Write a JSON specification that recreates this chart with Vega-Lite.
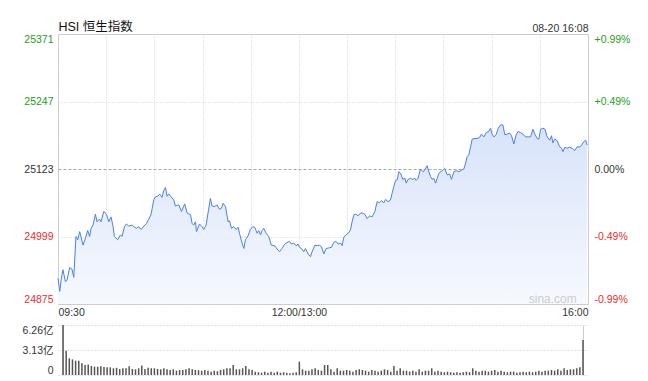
{
  "$schema": "https://vega.github.io/schema/vega-lite/v6.json",
  "padding": {"left": 22, "top": 19, "right": 0, "bottom": 0},
  "bounds": "flush",
  "spacing": 21,
  "config": {
    "font": "Liberation Sans, Noto Sans CJK SC, sans-serif",
    "view": {"stroke": "#cccccc"},
    "axis": {"labelFont": "Liberation Sans, Noto Sans CJK SC, sans-serif", "labelFontSize": 10.5, "labelColor": "#333333", "ticks": false, "domain": false, "title": null}
  },
  "datasets": {
    "line": [
      {"t":0,"v":24922},{"t":1.1,"v":24898},{"t":1.9,"v":24919},{"t":3.1,"v":24938},{"t":4.6,"v":24916},{"t":5.6,"v":24919},{"t":7.3,"v":24942},{"t":8.7,"v":24939},{"t":9.8,"v":24924},{"t":11.2,"v":24999},{"t":12.3,"v":24993},{"t":13.5,"v":25008},{"t":15.6,"v":24983},{"t":17.1,"v":24996},{"t":18.5,"v":25010},{"t":19.7,"v":24999},{"t":20.6,"v":25014},{"t":21.8,"v":25020},{"t":23.3,"v":25040},{"t":24.3,"v":25026},{"t":25.8,"v":25031},{"t":26.8,"v":25026},{"t":28.5,"v":25045},{"t":30.2,"v":25040},{"t":31.6,"v":25026},{"t":33,"v":25035},{"t":34.3,"v":25017},{"t":35.1,"v":24999},{"t":37.2,"v":24993},{"t":38.9,"v":25002},{"t":39.9,"v":24999},{"t":41.4,"v":25017},{"t":42.6,"v":25022},{"t":44,"v":25018},{"t":46.1,"v":25020},{"t":47.2,"v":25017},{"t":48.8,"v":25014},{"t":50.3,"v":25017},{"t":51.7,"v":25012},{"t":53.4,"v":25018},{"t":55.1,"v":25023},{"t":56.5,"v":25031},{"t":57.9,"v":25039},{"t":59.6,"v":25066},{"t":60.7,"v":25072},{"t":62.1,"v":25073},{"t":63.3,"v":25077},{"t":64.8,"v":25071},{"t":65.8,"v":25083},{"t":66.9,"v":25089},{"t":67.9,"v":25073},{"t":69,"v":25077},{"t":70.4,"v":25072},{"t":72.1,"v":25066},{"t":73.1,"v":25055},{"t":74.6,"v":25057},{"t":75.2,"v":25057},{"t":76.9,"v":25045},{"t":78.9,"v":25059},{"t":80.4,"v":25042},{"t":82.5,"v":25039},{"t":83.5,"v":25023},{"t":84.5,"v":25020},{"t":85.6,"v":25026},{"t":86.2,"v":25008},{"t":88.1,"v":25022},{"t":89.7,"v":25017},{"t":90.8,"v":25012},{"t":92.2,"v":25020},{"t":93.4,"v":25042},{"t":94.9,"v":25069},{"t":95.9,"v":25055},{"t":97.6,"v":25054},{"t":99,"v":25057},{"t":100.5,"v":25049},{"t":101.8,"v":25051},{"t":102.8,"v":25060},{"t":104.3,"v":25054},{"t":105.9,"v":25026},{"t":106.8,"v":25028},{"t":108,"v":25014},{"t":109.4,"v":25017},{"t":110.9,"v":25012},{"t":112.1,"v":25016},{"t":113,"v":25005},{"t":114.2,"v":24991},{"t":115.7,"v":24977},{"t":116.7,"v":24993},{"t":118.3,"v":25000},{"t":119.8,"v":25012},{"t":121.3,"v":25017},{"t":122.5,"v":25016},{"t":124,"v":25005},{"t":125,"v":25010},{"t":126.1,"v":25002},{"t":127.1,"v":25010},{"t":128.1,"v":25014},{"t":129.6,"v":25005},{"t":131.2,"v":24999},{"t":132.9,"v":24983},{"t":135,"v":24982},{"t":136.4,"v":24976},{"t":137.9,"v":24971},{"t":139.5,"v":24977},{"t":141.2,"v":24985},{"t":142.6,"v":24988},{"t":144.1,"v":24990},{"t":145.4,"v":24985},{"t":146.8,"v":24987},{"t":148.2,"v":24982},{"t":149.5,"v":24985},{"t":150.4,"v":24979},{"t":151.6,"v":24977},{"t":153,"v":24971},{"t":154.1,"v":24977},{"t":155.7,"v":24967},{"t":157.2,"v":24962},{"t":158.2,"v":24971},{"t":159.9,"v":24983},{"t":161.3,"v":24982},{"t":162.8,"v":24983},{"t":164.1,"v":24980},{"t":165.5,"v":24967},{"t":166.9,"v":24977},{"t":168.6,"v":24978},{"t":170.3,"v":24979},{"t":171.7,"v":24988},{"t":173.2,"v":24990},{"t":174.4,"v":24985},{"t":175.9,"v":24987},{"t":176.9,"v":24982},{"t":178,"v":24998},{"t":179.4,"v":25002},{"t":181.1,"v":25006},{"t":182.1,"v":25011},{"t":183.1,"v":25026},{"t":184.2,"v":25039},{"t":185.6,"v":25040},{"t":186.9,"v":25037},{"t":188.4,"v":25042},{"t":189.8,"v":25042},{"t":191,"v":25040},{"t":192.5,"v":25032},{"t":194,"v":25037},{"t":195.6,"v":25035},{"t":197.3,"v":25045},{"t":198.7,"v":25063},{"t":200.2,"v":25061},{"t":201.4,"v":25065},{"t":202.9,"v":25061},{"t":203.9,"v":25067},{"t":205.5,"v":25063},{"t":207,"v":25066},{"t":208,"v":25078},{"t":209.1,"v":25091},{"t":210.2,"v":25102},{"t":211.2,"v":25103},{"t":212.2,"v":25118},{"t":213.3,"v":25115},{"t":214.7,"v":25104},{"t":216,"v":25106},{"t":216.8,"v":25097},{"t":218,"v":25104},{"t":219.5,"v":25106},{"t":220.9,"v":25104},{"t":222.2,"v":25106},{"t":223,"v":25102},{"t":224.2,"v":25106},{"t":225.7,"v":25123},{"t":227.2,"v":25118},{"t":228.4,"v":25121},{"t":229.8,"v":25129},{"t":230.9,"v":25118},{"t":232,"v":25109},{"t":233,"v":25104},{"t":234,"v":25106},{"t":235.1,"v":25097},{"t":236.1,"v":25106},{"t":237.1,"v":25115},{"t":239.2,"v":25120},{"t":240.9,"v":25124},{"t":242.3,"v":25112},{"t":243.8,"v":25114},{"t":245,"v":25104},{"t":246.5,"v":25118},{"t":247.9,"v":25120},{"t":249.6,"v":25118},{"t":251.3,"v":25121},{"t":252.7,"v":25123},{"t":253.8,"v":25134},{"t":254.8,"v":25146},{"t":255.8,"v":25149},{"t":256.9,"v":25164},{"t":257.9,"v":25178},{"t":259.6,"v":25179},{"t":261,"v":25179},{"t":262.5,"v":25181},{"t":263.7,"v":25187},{"t":265.2,"v":25182},{"t":266.6,"v":25190},{"t":268.3,"v":25192},{"t":269.3,"v":25198},{"t":270.3,"v":25187},{"t":271.4,"v":25182},{"t":272.8,"v":25186},{"t":274.1,"v":25198},{"t":275.6,"v":25204},{"t":277,"v":25204},{"t":278.2,"v":25186},{"t":279.7,"v":25187},{"t":281.2,"v":25189},{"t":282.4,"v":25184},{"t":283.8,"v":25169},{"t":285.3,"v":25186},{"t":286.5,"v":25192},{"t":288,"v":25190},{"t":289.5,"v":25187},{"t":291.1,"v":25182},{"t":292.7,"v":25182},{"t":294.2,"v":25182},{"t":295.7,"v":25196},{"t":296.9,"v":25187},{"t":298.4,"v":25179},{"t":299.4,"v":25178},{"t":300.5,"v":25196},{"t":301.9,"v":25198},{"t":303.2,"v":25196},{"t":304.6,"v":25182},{"t":306.1,"v":25176},{"t":307.3,"v":25184},{"t":308.1,"v":25171},{"t":309.4,"v":25178},{"t":310.8,"v":25175},{"t":312.3,"v":25164},{"t":313.6,"v":25161},{"t":314.4,"v":25155},{"t":315.6,"v":25163},{"t":317,"v":25161},{"t":318.5,"v":25163},{"t":320.2,"v":25161},{"t":321.8,"v":25157},{"t":323.3,"v":25164},{"t":324.8,"v":25163},{"t":326,"v":25167},{"t":327.4,"v":25173},{"t":328.5,"v":25176},{"t":329.5,"v":25167}
    ],
    "vol": [
      {"t":0,"vol":6.26},{"t":2,"vol":3.04},{"t":4,"vol":2.09},{"t":6,"vol":1.96},{"t":8,"vol":1.79},{"t":10,"vol":1.79},{"t":12,"vol":1.46},{"t":14,"vol":1.25},{"t":16,"vol":1.3},{"t":18,"vol":1.13},{"t":20,"vol":1.04},{"t":22,"vol":1.04},{"t":24,"vol":1.1},{"t":26,"vol":1.0},{"t":28,"vol":0.96},{"t":30,"vol":0.96},{"t":32,"vol":0.84},{"t":34,"vol":0.9},{"t":36,"vol":0.75},{"t":38,"vol":0.84},{"t":40,"vol":0.84},{"t":42,"vol":1.1},{"t":44,"vol":0.75},{"t":46,"vol":0.71},{"t":48,"vol":0.84},{"t":50,"vol":1.2},{"t":52,"vol":0.75},{"t":54,"vol":0.9},{"t":56,"vol":0.84},{"t":58,"vol":0.84},{"t":60,"vol":0.75},{"t":62,"vol":0.71},{"t":64,"vol":0.84},{"t":66,"vol":0.71},{"t":68,"vol":0.63},{"t":70,"vol":0.71},{"t":72,"vol":0.54},{"t":74,"vol":0.63},{"t":76,"vol":0.63},{"t":78,"vol":0.71},{"t":80,"vol":0.84},{"t":82,"vol":0.71},{"t":84,"vol":0.63},{"t":86,"vol":0.6},{"t":88,"vol":0.54},{"t":90,"vol":0.63},{"t":92,"vol":0.54},{"t":94,"vol":0.42},{"t":96,"vol":0.54},{"t":98,"vol":0.48},{"t":100,"vol":0.63},{"t":102,"vol":0.71},{"t":104,"vol":0.84},{"t":106,"vol":0.84},{"t":108,"vol":1.25},{"t":110,"vol":0.71},{"t":112,"vol":0.71},{"t":114,"vol":0.84},{"t":116,"vol":1.13},{"t":118,"vol":0.71},{"t":120,"vol":0.63},{"t":122,"vol":0.42},{"t":124,"vol":0.35},{"t":126,"vol":0.29},{"t":128,"vol":0.42},{"t":130,"vol":0.29},{"t":132,"vol":0.42},{"t":134,"vol":0.29},{"t":136,"vol":0.42},{"t":138,"vol":0.29},{"t":140,"vol":0.35},{"t":142,"vol":0.29},{"t":144,"vol":0.21},{"t":146,"vol":0.29},{"t":148,"vol":0.35},{"t":150,"vol":1.67},{"t":152,"vol":0.71},{"t":154,"vol":0.54},{"t":156,"vol":0.54},{"t":158,"vol":0.71},{"t":160,"vol":0.84},{"t":162,"vol":0.63},{"t":164,"vol":0.54},{"t":166,"vol":1.25},{"t":168,"vol":1.25},{"t":170,"vol":0.71},{"t":172,"vol":0.42},{"t":174,"vol":0.84},{"t":176,"vol":0.54},{"t":178,"vol":0.54},{"t":180,"vol":0.63},{"t":182,"vol":0.54},{"t":184,"vol":0.42},{"t":186,"vol":0.63},{"t":188,"vol":0.71},{"t":190,"vol":0.63},{"t":192,"vol":0.54},{"t":194,"vol":0.42},{"t":196,"vol":0.63},{"t":198,"vol":0.54},{"t":200,"vol":0.42},{"t":202,"vol":0.54},{"t":204,"vol":0.71},{"t":206,"vol":0.63},{"t":208,"vol":0.42},{"t":210,"vol":1.13},{"t":212,"vol":0.54},{"t":214,"vol":0.84},{"t":216,"vol":0.54},{"t":218,"vol":0.54},{"t":220,"vol":0.42},{"t":222,"vol":0.54},{"t":224,"vol":0.42},{"t":226,"vol":0.71},{"t":228,"vol":0.42},{"t":230,"vol":0.54},{"t":232,"vol":0.54},{"t":234,"vol":0.84},{"t":236,"vol":0.42},{"t":238,"vol":0.54},{"t":240,"vol":0.42},{"t":242,"vol":0.35},{"t":244,"vol":0.42},{"t":246,"vol":0.35},{"t":248,"vol":0.29},{"t":250,"vol":0.35},{"t":252,"vol":0.29},{"t":254,"vol":0.35},{"t":256,"vol":0.42},{"t":258,"vol":0.35},{"t":260,"vol":0.84},{"t":262,"vol":0.54},{"t":264,"vol":0.42},{"t":266,"vol":0.54},{"t":268,"vol":0.54},{"t":270,"vol":0.42},{"t":272,"vol":0.54},{"t":274,"vol":0.63},{"t":276,"vol":0.42},{"t":278,"vol":0.54},{"t":280,"vol":0.42},{"t":282,"vol":0.35},{"t":284,"vol":0.42},{"t":286,"vol":0.42},{"t":288,"vol":0.29},{"t":290,"vol":0.35},{"t":292,"vol":0.42},{"t":294,"vol":0.35},{"t":296,"vol":0.42},{"t":298,"vol":0.35},{"t":300,"vol":0.42},{"t":302,"vol":0.54},{"t":304,"vol":0.42},{"t":306,"vol":0.54},{"t":308,"vol":0.54},{"t":310,"vol":0.63},{"t":312,"vol":0.54},{"t":314,"vol":0.71},{"t":316,"vol":0.54},{"t":318,"vol":0.84},{"t":320,"vol":0.63},{"t":322,"vol":0.71},{"t":324,"vol":0.71},{"t":326,"vol":0.84},{"t":328,"vol":0.96},{"t":330,"vol":4.38}
    ]
  },
  "vconcat": [
    {
      "width": 530,
      "height": 270,
      "layer": [
        {
          "data": {"name": "line"},
          "mark": {"type": "area", "clip": true, "color": {"gradient": "linear", "x1": 0, "y1": 0, "x2": 0, "y2": 1, "stops": [{"offset": 0, "color": "#d8e3fa"}, {"offset": 1, "color": "#f6f9fe"}]}},
          "encoding": {
            "x": {"field": "t", "type": "quantitative", "scale": {"domain": [0, 330], "nice": false, "zero": false},
              "axis": {"orient": "bottom", "values": [0, 30, 60, 90, 120, 150, 180, 210, 240, 270, 300, 330],
                "labelExpr": "datum.value == 0 ? '09:30' : (datum.value == 150 ? '12:00/13:00' : (datum.value == 330 ? '16:00' : ''))",
                "labelAlign": {"condition": [{"test": "datum.value == 0", "value": "left"}, {"test": "datum.value == 330", "value": "right"}], "value": "center"},
                "labelOverlap": false, "labelFlush": false, "labelPadding": 3, "labelBaseline": "top",
                "grid": true, "gridColor": "#d0d0d0", "gridDash": [1, 2]}},
            "y": {"field": "v", "type": "quantitative", "scale": {"domain": [24875, 25371], "nice": false, "zero": false},
              "axis": {"orient": "left", "values": [24875, 24999, 25123, 25247, 25371], "format": "d", "labelFlush": true, "labelPadding": 5,
                "labelColor": {"condition": [{"test": "datum.value > 25123", "value": "#22a022"}, {"test": "datum.value < 25123", "value": "#ee2b2b"}], "value": "#333333"},
                "grid": true,
                "gridColor": {"condition": {"test": "datum.value == 25123", "value": "#a8a8a8"}, "value": "#d0d0d0"},
                "gridDash": {"condition": {"test": "datum.value == 25123", "value": [3, 2]}, "value": [1, 2]}}},
            "y2": {"datum": 24875}
          }
        },
        {
          "data": {"name": "line"},
          "mark": {"type": "line", "color": "#4a80ee", "strokeWidth": 1},
          "encoding": {
            "x": {"field": "t", "type": "quantitative",
              "axis": {"orient": "top", "values": [0, 330], "grid": false,
                "labelExpr": "datum.value == 0 ? 'HSI 恒生指数' : '08-20 16:08'",
                "labelAlign": {"condition": {"test": "datum.value == 0", "value": "left"}, "value": "right"},
                "labelFontSize": {"condition": {"test": "datum.value == 0", "value": 12.5}, "value": 10.5},
                "labelColor": {"condition": {"test": "datum.value == 0", "value": "#111111"}, "value": "#333333"},
                "labelOverlap": false, "labelFlush": false, "labelPadding": 1}},
            "y": {"field": "v", "type": "quantitative",
              "axis": {"orient": "right", "values": [24875, 24999, 25123, 25247, 25371], "labelFlush": true, "labelPadding": 6, "grid": false,
                "labelExpr": "datum.value == 25123 ? '0.00%' : (datum.value > 25123 ? '+' : '-') + format(abs(datum.value / 25123 - 1) * 100, '.2f') + '%'",
                "labelColor": {"condition": [{"test": "datum.value > 25123", "value": "#22a022"}, {"test": "datum.value < 25123", "value": "#ee2b2b"}], "value": "#333333"}}}
          }
        },
        {
          "data": {"values": [{"label": "sina.com"}]},
          "mark": {"type": "text", "align": "right", "baseline": "middle", "fontSize": 12, "color": "#cccccc"},
          "encoding": {
            "x": {"datum": 323, "type": "quantitative", "axis": null},
            "y": {"datum": 24884, "type": "quantitative", "axis": null},
            "text": {"field": "label"}
          }
        }
      ],
      "resolve": {"axis": {"x": "independent", "y": "independent"}}
    },
    {
      "width": 530,
      "height": 50,
      "data": {"name": "vol"},
      "view": {"stroke": null},
      "mark": {"type": "bar", "color": "#555555", "size": 1.5, "orient": "vertical"},
      "encoding": {
        "x": {"field": "t", "type": "quantitative", "scale": {"domain": [0, 330], "nice": false, "zero": false},
          "axis": {"values": [0, 330], "labels": false, "grid": true, "gridColor": "#cccccc"}},
        "y": {"field": "vol", "type": "quantitative", "scale": {"domain": [0, 6.26], "nice": false},
          "axis": {"values": [0, 3.13, 6.26], "labelFlush": true, "labelPadding": 5,
            "labelExpr": "datum.value == 0 ? '0' : format(datum.value, '.2f') + '亿'",
            "grid": true, "gridColor": "#c8c8c8", "gridDash": [1, 2]}}
      }
    }
  ]
}
